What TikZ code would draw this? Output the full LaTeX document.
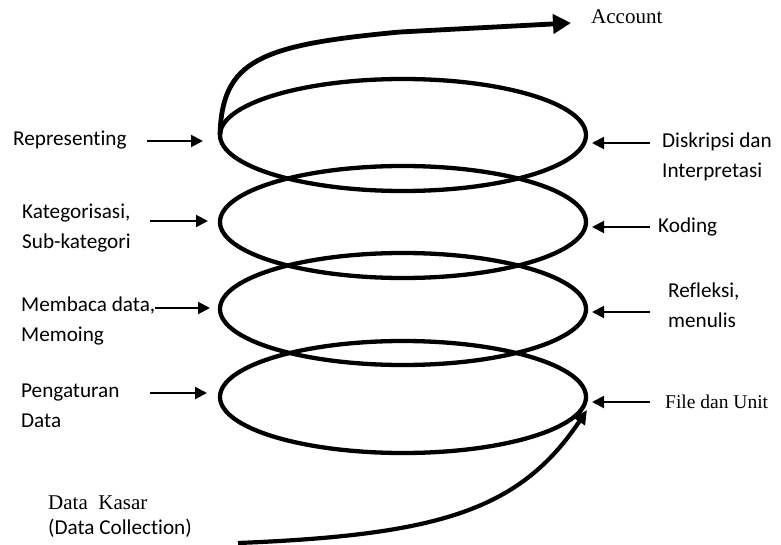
\documentclass[tikz,border=0pt]{standalone}
\usepackage{fontspec}
\setmainfont{Liberation Serif}
\newfontfamily\calib[Ligatures={NoCommon}]{Carlito}
\usetikzlibrary{shapes.geometric,arrows.meta,calc}
\begin{document}
\begin{tikzpicture}[x=1pt,y=-1pt,
  ring/.style={draw, ellipse, line width=4.3pt, minimum width=366pt, minimum height=112pt, inner sep=0pt, outer sep=0pt},
  lab/.style={font=\calib\fontsize{21.2}{30}\selectfont, align=left, anchor=west, inner sep=0pt},
  serlab/.style={font=\fontsize{21}{26}\selectfont, align=left, anchor=west, inner sep=0pt},
  pointer/.style={line width=2pt, -{Triangle[length=12pt,width=12pt]}},
  flow/.style={line width=4.8pt, -{Triangle[length=18pt,width=19pt]}},
  flowb/.style={line width=4.2pt, -{Triangle[length=14pt,width=13pt]}}
]
\useasboundingbox (0,0) rectangle (781,545);
% spiral rings
\node[ring] (e1) at (403,135) {};
\node[ring] (e2) at (403,222) {};
\node[ring] (e3) at (403,309) {};
\node[ring] (e4) at (403,397) {};
% left labels
\node[lab] (l1) at (13,140) {Representing};
\node[lab] (l2) at (22,228) {Kategorisasi,\\Sub-kategori};
\node[lab] (l3) at (21,321) {Membaca data,\\Memoing};
\node[lab] (l4) at (21,406) {Pengaturan\\Data};
% right labels
\node[lab] (r1) at (662,157) {Diskripsi dan\\Interpretasi};
\node[lab] (r2) at (658,227) {Koding};
\node[lab] (r3) at (668,305) {Refleksi,\\menulis};
\node[serlab, font=\fontsize{19.5}{24}\selectfont] (r4) at (665,402) {File dan Unit};
\node[serlab] (acc) at (591,17) {Account};
\node[serlab] (dk) at (48,503) {Data\enspace Kasar};
\node[lab] (dc) at (48,528) {(Data Collection)};
% left pointers
\coordinate (a1) at (147,141);
\coordinate (a2) at (150,221);
\coordinate (a3) at (155,308);
\coordinate (a4) at (150,393);
\draw[pointer, shorten >=17pt] (a1) -- (a1 -| e1.west);
\draw[pointer, shorten >=12pt] (a2) -- (a2 -| e2.west);
\draw[pointer, shorten >=10pt] (a3) -- (a3 -| e3.west);
\draw[pointer, shorten >=13pt] (a4) -- (a4 -| e4.west);
% right pointers
\coordinate (b1) at (650,143);
\coordinate (b2) at (650,227);
\coordinate (b3) at (650,312);
\coordinate (b4) at (650,402);
\draw[pointer, shorten >=6pt] (b1) -- (b1 -| e1.east);
\draw[pointer, shorten >=6pt] (b2) -- (b2 -| e2.east);
\draw[pointer, shorten >=6pt] (b3) -- (b3 -| e3.east);
\draw[pointer, shorten >=6pt] (b4) -- (b4 -| e4.east);
% flow arrows
\draw[flow] (e1.west) .. controls (222,60) and (260,45) .. (400,32) -- ($(acc.west)+(-20,6)$);
\coordinate (dstart) at (238,543);
\draw[flowb] (dstart) .. controls (440,535) and (520,510) .. ($(e4.east)+(1,13)$);
\end{tikzpicture}
\end{document}
